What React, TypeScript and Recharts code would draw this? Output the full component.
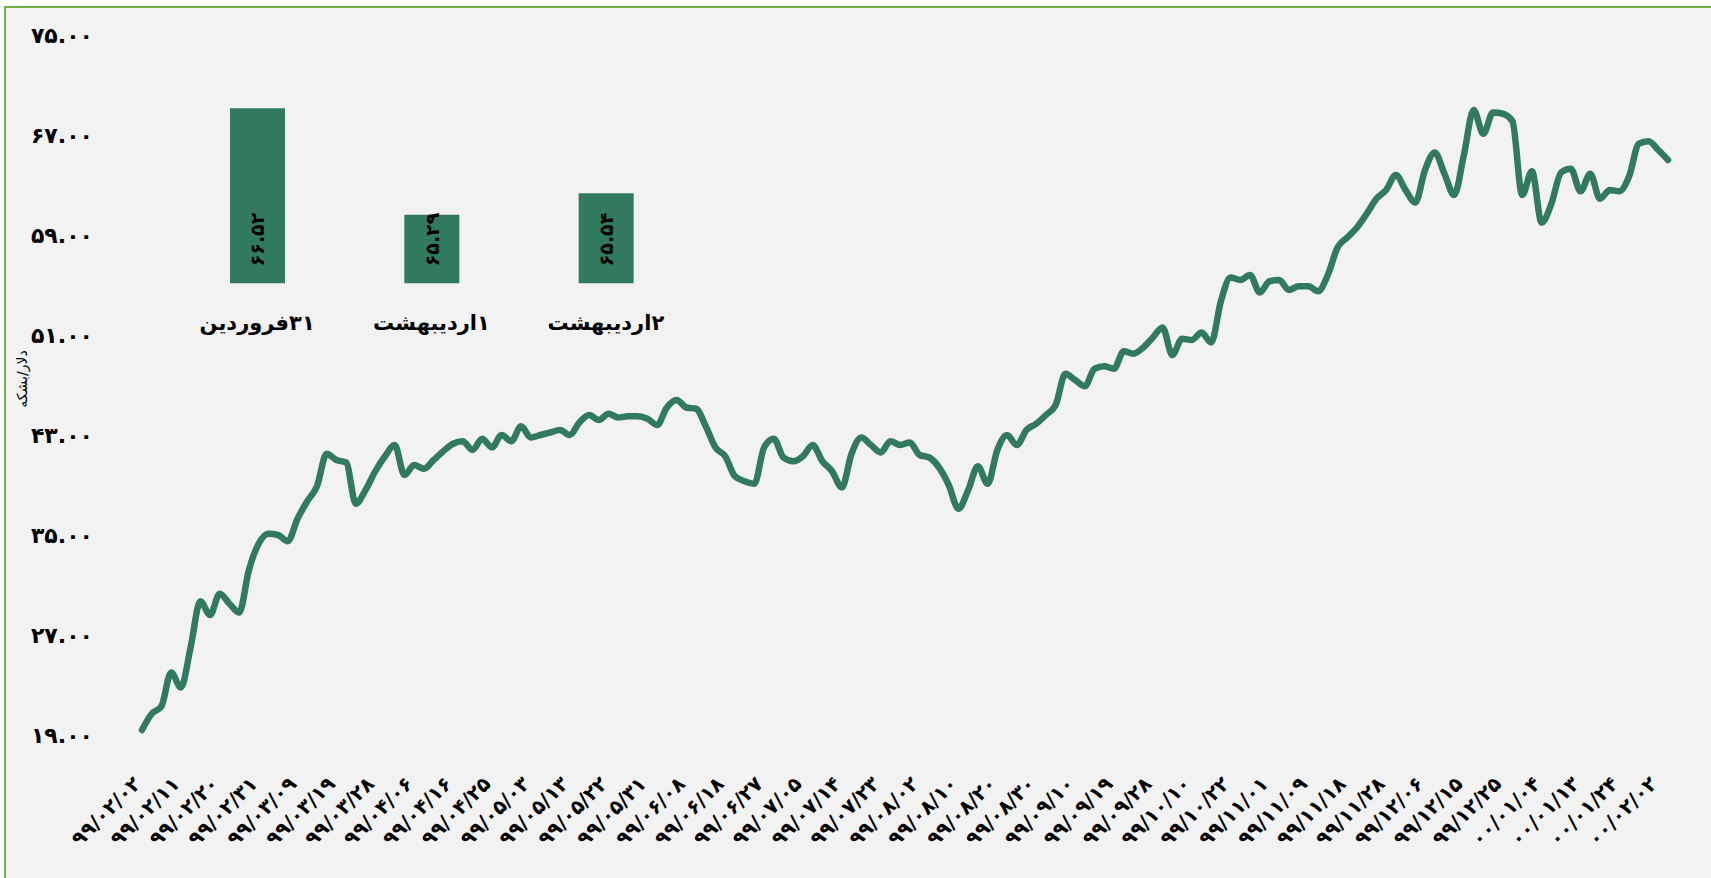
import React from "react";
import { LineChart, Line, XAxis, YAxis, BarChart, Bar, LabelList } from "recharts";

// Brent price, dollars per barrel, one point every ~2 trading days
const oilPrice = [
  19.4, 20.7, 21.3, 24.0, 22.8, 26.0, 29.7, 28.6, 30.3, 29.5,
  28.8, 32.2, 34.3, 35.1, 35.0, 34.5, 36.3, 37.7, 38.9, 41.5,
  41.0, 40.8, 37.5, 38.6, 40.1, 41.3, 42.2, 39.8, 40.6, 40.3,
  41.0, 41.7, 42.3, 42.5, 41.8, 42.7, 42.0, 43.0, 42.5, 43.7,
  42.8, 43.0, 43.2, 43.4, 43.0, 44.0, 44.6, 44.2, 44.7, 44.4,
  44.5, 44.5, 44.3, 43.8, 45.2, 45.8, 45.2, 45.1, 43.7, 42.0,
  41.3, 39.7, 39.3, 39.1, 42.0, 42.7, 41.2, 40.9, 41.3, 42.2,
  40.9, 40.1, 38.8, 41.5, 42.8, 42.2, 41.6, 42.5, 42.2, 42.4,
  41.4, 41.2, 40.4, 39.0, 37.1, 38.6, 40.5, 39.1, 41.8, 43.0,
  42.2, 43.4, 43.9, 44.6, 45.4, 47.9, 47.4, 46.9, 48.3, 48.5,
  48.3, 49.7, 49.5, 50.0, 50.8, 51.6, 49.4, 50.7, 50.6, 51.2,
  50.4, 53.7, 55.6, 55.4, 55.8, 54.4, 55.3, 55.4, 54.6, 54.9,
  54.9, 54.5, 55.8, 58.0, 58.8, 59.6, 60.7, 61.9, 62.6, 63.8,
  62.6, 61.6, 64.2, 65.6, 63.9, 62.2, 65.4, 69.0, 67.1, 68.8,
  68.7, 68.1, 62.2, 64.1, 60.0, 61.5, 64.0, 64.3, 62.5, 63.9,
  61.9, 62.6, 62.5, 63.7, 66.3, 66.5, 65.8, 65.0,
];

// one label every 4 points
const dateLabels = [
  "۹۹/۰۲/۰۲", "۹۹/۰۲/۱۱", "۹۹/۰۲/۲۰", "۹۹/۰۲/۳۱", "۹۹/۰۳/۰۹",
  "۹۹/۰۳/۱۹", "۹۹/۰۳/۲۸", "۹۹/۰۴/۰۶", "۹۹/۰۴/۱۶", "۹۹/۰۴/۲۵",
  "۹۹/۰۵/۰۳", "۹۹/۰۵/۱۳", "۹۹/۰۵/۲۲", "۹۹/۰۵/۳۱", "۹۹/۰۶/۰۸",
  "۹۹/۰۶/۱۸", "۹۹/۰۶/۲۷", "۹۹/۰۷/۰۵", "۹۹/۰۷/۱۴", "۹۹/۰۷/۲۳",
  "۹۹/۰۸/۰۲", "۹۹/۰۸/۱۰", "۹۹/۰۸/۲۰", "۹۹/۰۸/۳۰", "۹۹/۰۹/۱۰",
  "۹۹/۰۹/۱۹", "۹۹/۰۹/۲۸", "۹۹/۱۰/۱۰", "۹۹/۱۰/۲۲", "۹۹/۱۱/۰۱",
  "۹۹/۱۱/۰۹", "۹۹/۱۱/۱۸", "۹۹/۱۱/۲۸", "۹۹/۱۲/۰۶", "۹۹/۱۲/۱۵",
  "۹۹/۱۲/۲۵", "۰۰/۰۱/۰۴", "۰۰/۰۱/۱۳", "۰۰/۰۱/۲۴", "۰۰/۰۲/۰۲",
];
const LABEL_STEP = 4;

const yTicks = [19, 27, 35, 43, 51, 59, 67, 75];

// inset: last three days
const recentDays = ["۳۱فروردین", "۱اردیبهشت", "۲اردیبهشت"];
const recentPrices = [66.52, 65.29, 65.54];

const GREEN = "#317A5D";
const FONT = "'DejaVu Sans', sans-serif";

const faDigits = "۰۱۲۳۴۵۶۷۸۹";
const toFa = (s: string) => s.replace(/\d/g, (d) => faDigits[Number(d)]);

const lineData = oilPrice.map((price, idx) => ({ idx, price }));
const tickIdx = dateLabels.map((_, i) => i * LABEL_STEP);
const barData = recentDays.map((day, i) => ({ day, price: recentPrices[i] }));

const DateTick = (props: any) => {
  const { x, y, payload } = props;
  const label = dateLabels[Math.round(payload.value / LABEL_STEP)];
  const ty = y + 50;
  return (
    <text
      x={x}
      y={ty}
      transform={`rotate(-45, ${x}, ${ty})`}
      textAnchor="end"
      fontSize={20}
      fontWeight={700}
      fontFamily={FONT}
      fill="#000"
    >
      {label}
    </text>
  );
};

const DayTick = (props: any) => {
  const { x, y, payload } = props;
  return (
    <text x={x} y={y + 47} textAnchor="middle" fontSize={21} fontWeight={700} fontFamily={FONT} fill="#000">
      {"\u200F" + payload.value}
    </text>
  );
};

const InsideLabel = (props: any) => {
  const { x, y, width, height, value } = props;
  const cx = x + width / 2;
  const base = y + height - 17;
  return (
    <text
      x={cx}
      y={base}
      transform={`rotate(-90, ${cx}, ${base})`}
      textAnchor="start"
      dominantBaseline="central"
      fontSize={19}
      fontWeight={700}
      fontFamily={FONT}
      fill="#000"
    >
      {toFa(Number(value).toFixed(2))}
    </text>
  );
};

const App = () => {
  return (
    <div style={{ position: "fixed", left: 0, top: 0, width: 1711, height: 878, overflow: "hidden", background: "#fff" }}>
      <div
        style={{
          position: "absolute",
          left: 4,
          top: 6,
          width: 1720,
          height: 900,
          border: "2px solid #74B04A",
          background: "#F2F2F2",
        }}
      />
      <div style={{ position: "absolute", left: 0, top: 0 }}>
        <LineChart width={1711} height={878} data={lineData} margin={{ top: 35, right: 43, bottom: 13, left: 0 }}>
          <XAxis
            dataKey="idx"
            type="number"
            domain={[0, oilPrice.length - 1]}
            ticks={tickIdx}
            interval={0}
            axisLine={false}
            tickLine={false}
            tickSize={0}
            tickMargin={0}
            height={130}
            tick={<DateTick />}
          />
          <YAxis
            domain={[19, 75]}
            ticks={yTicks}
            width={142}
            axisLine={false}
            tickLine={false}
            tickSize={0}
            tickMargin={49}
            tickFormatter={(v: number) => toFa(v.toFixed(2))}
            tick={{ fontSize: 22, fontWeight: 700, fill: "#000", fontFamily: FONT }}
          />
          <Line
            dataKey="price"
            type="monotone"
            stroke={GREEN}
            strokeWidth={6.5}
            strokeLinecap="round"
            strokeLinejoin="round"
            dot={false}
            isAnimationActive={false}
          />
        </LineChart>
      </div>
      <div
        style={{
          position: "absolute",
          left: 22,
          top: 379,
          transform: "translate(-50%, -50%) rotate(-90deg)",
          fontSize: 14,
          fontFamily: FONT,
          whiteSpace: "nowrap",
          color: "#000",
        }}
      >
        دلار/بشکه
      </div>
      <div style={{ position: "absolute", left: 169.5, top: 90 }}>
        <BarChart width={523} height={260} data={barData} margin={{ top: 18.3, right: 0, bottom: 0, left: 0 }}>
          <XAxis
            dataKey="day"
            axisLine={false}
            tickLine={false}
            tickSize={0}
            tickMargin={0}
            height={66.7}
            interval={0}
            tick={<DayTick />}
          />
          <YAxis hide domain={[64.5, 66.52]} />
          <Bar dataKey="price" fill={GREEN} barSize={55} isAnimationActive={false}>
            <LabelList dataKey="price" content={<InsideLabel />} />
          </Bar>
        </BarChart>
      </div>
    </div>
  );
};

export default App;
